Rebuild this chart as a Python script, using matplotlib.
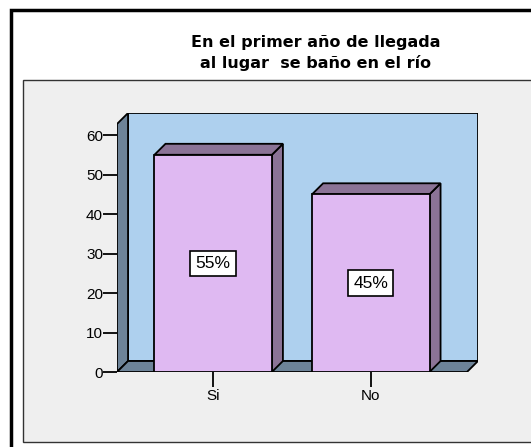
import matplotlib
matplotlib.use('Agg')
import matplotlib.pyplot as plt
from matplotlib.patches import Rectangle, Polygon

plt.rcParams['font.family'] = ['Liberation Sans', 'DejaVu Sans']

categories = ['Si', 'No']
values = [55, 45]
labels = ['55%', '45%']
yticks = [0, 10, 20, 30, 40, 50, 60]

W, H = 531, 447
fig = plt.figure(figsize=(W / 100, H / 100), dpi=100)
fig.patch.set_facecolor('white')

# outer frame and grey panel (figure pixel coords)
def px(x, y):
    return x / W, 1 - y / H

fig.add_artist(Rectangle(px(11, 460), 540 / W, 450 / H, transform=fig.transFigure,
                         fill=False, lw=2.5, ec='black', zorder=-2))
fig.add_artist(Rectangle(px(23, 442), 520 / W, 362 / H, transform=fig.transFigure,
                         fc='#efefef', ec='#333333', lw=1, zorder=-1))

fig.text(316 / W, 1 - 43 / H, 'En el primer año de llegada', ha='center', va='center',
         fontsize=11.5, fontweight='bold', family='DejaVu Sans')
fig.text(316 / W, 1 - 63 / H, 'al lugar  se baño en el río', ha='center', va='center',
         fontsize=11.5, fontweight='bold', family='DejaVu Sans')

# axes: front plane x 117..467 px, y 372..124 px; depth 11 px
x0, x1 = -0.61, 1.61
dx, dy = 0.07, 2.78
ytop = 62.8
ax = fig.add_axes([117 / W, 75 / H, (478 - 117) / W, (372 - 113) / H])
ax.set_xlim(x0, x1 + dx)
ax.set_ylim(0, ytop + dy)
ax.patch.set_visible(False)
for s in ax.spines.values():
    s.set_visible(False)

wall = '#aed0ee'
side = '#6d8398'
face = '#dfb9f2'
dark = '#8b7396'

ax.add_patch(Rectangle((x0 + dx, dy), x1 - x0, ytop, fc=wall, ec='black', lw=1.3, zorder=1))
ax.add_patch(Polygon([(x0, 0), (x0 + dx, dy), (x0 + dx, ytop + dy), (x0, ytop)],
                     fc=side, ec='black', lw=1.3, zorder=2))
ax.add_patch(Polygon([(x0, 0), (x1, 0), (x1 + dx, dy), (x0 + dx, dy)],
                     fc=side, ec='black', lw=1.3, zorder=2))

bw = 0.745
xs = list(range(len(categories)))
ax.bar(xs, values, width=bw, color=face, edgecolor='black', linewidth=1.3, zorder=4)
for x, v, lab in zip(xs, values, labels):
    l, r = x - bw / 2, x + bw / 2
    ax.add_patch(Polygon([(r, 0), (r + dx, dy), (r + dx, v + dy), (r, v)],
                         fc=dark, ec='black', lw=1.3, zorder=3))
    ax.add_patch(Polygon([(l, v), (l + dx, v + dy), (r + dx, v + dy), (r, v)],
                         fc=dark, ec='black', lw=1.3, zorder=3))
    ax.text(x, v / 2, lab, ha='center', va='center', fontsize=12.5, zorder=5,
            bbox=dict(boxstyle='square,pad=0.3', fc='white', ec='black', lw=1.2))

ax.set_yticks(yticks)
ax.set_xticks(xs)
ax.set_xticklabels(categories)
ax.tick_params(axis='y', direction='out', length=10, width=1.3, labelsize=11, pad=0)
ax.tick_params(axis='x', direction='out', length=11, width=1.3, labelsize=11, pad=1)

fig.savefig('out.png', dpi=100)
